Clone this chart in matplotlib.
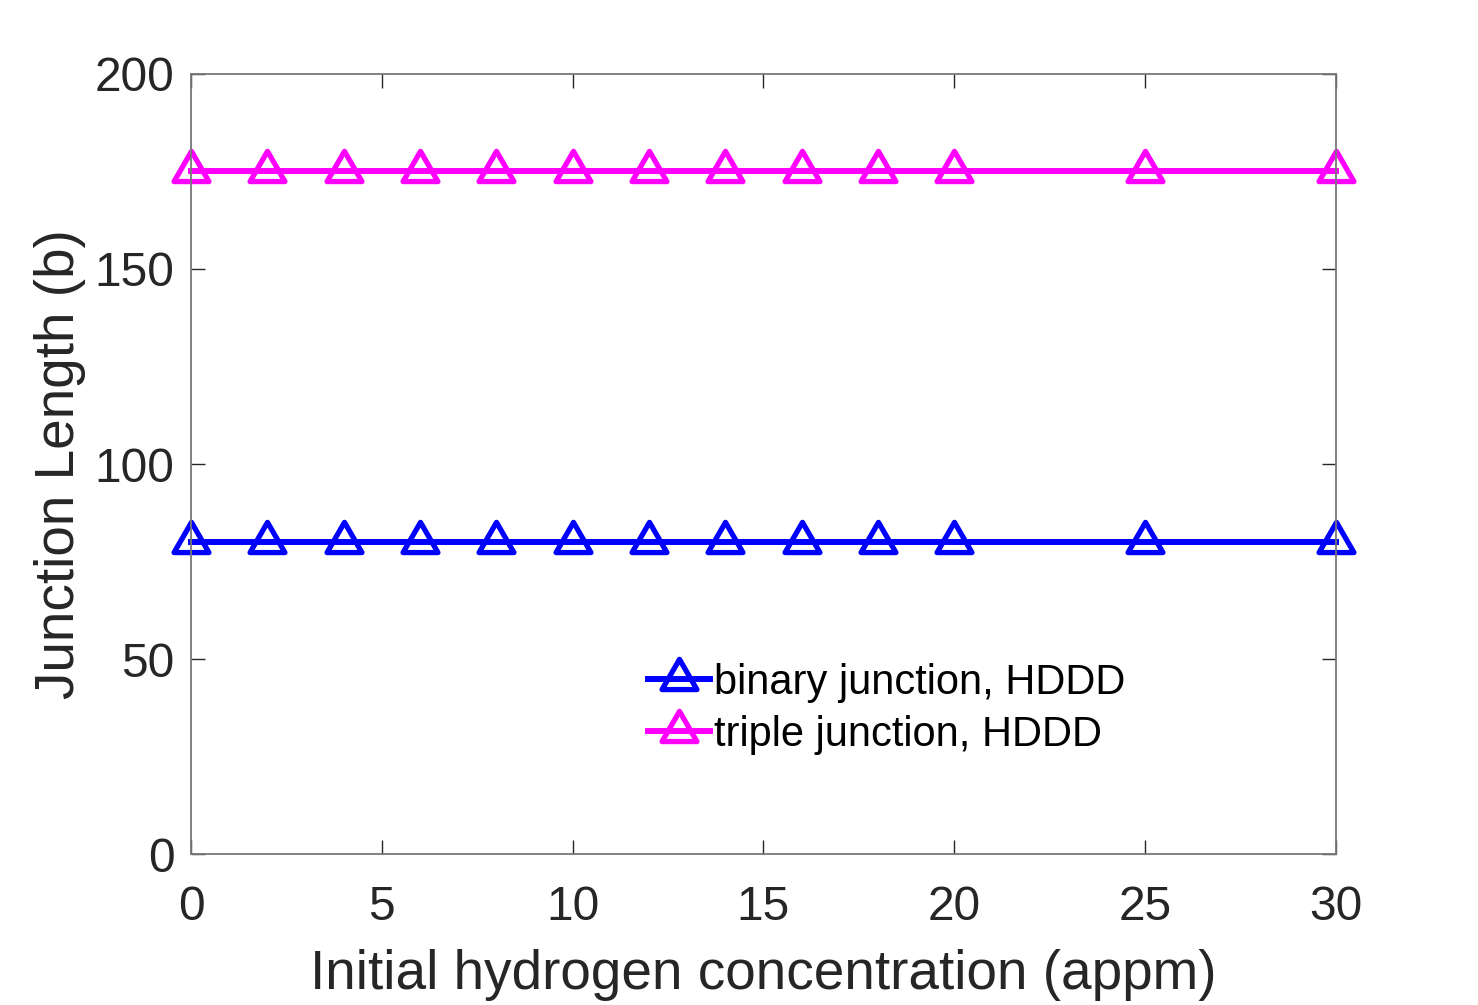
import matplotlib
matplotlib.use('Agg')
import matplotlib.pyplot as plt
from matplotlib.markers import MarkerStyle
from matplotlib.path import Path

# data
conc = [0, 2, 4, 6, 8, 10, 12, 14, 16, 18, 20, 25, 30]
binary_len = [80, 80, 80, 80, 80, 80, 80, 80, 80, 80, 80, 80, 80]
triple_len = [175, 175, 175, 175, 175, 175, 175, 175, 175, 175, 175, 175, 175]
xticks = [0, 5, 10, 15, 20, 25, 30]
yticks = [0, 50, 100, 150, 200]

plt.rcParams['font.family'] = ['Liberation Sans', 'DejaVu Sans']
txt = '#262626'

# triangle centred on its centroid (like MATLAB's '^')
tri = Path([(0, 1), (-0.866, -0.5), (0.866, -0.5), (0, 1)], closed=True)
mk = MarkerStyle(tri, joinstyle='miter')

fig = plt.figure(figsize=(14.78, 10.05), dpi=100)
ax = fig.add_axes([0.1292, 0.1502, 0.7747, 0.7762])

ax.plot(conc, binary_len, color='#0000ff', lw=4.3, marker=mk, ms=29,
        mfc='none', mew=3.8, label='binary junction, HDDD', clip_on=False)
ax.plot(conc, triple_len, color='#ff00ff', lw=4.3, marker=mk, ms=29,
        mfc='none', mew=3.8, label='triple junction, HDDD', clip_on=False)

ax.set_xlim(0, 30)
ax.set_ylim(0, 200)
ax.set_xticks(xticks)
ax.set_yticks(yticks)
ax.tick_params(direction='in', length=10, width=1, colors=txt, labelsize=34.5,
               top=True, right=True)
ax.tick_params(axis='x', pad=22)
ax.tick_params(axis='y', pad=12)
for s in ax.spines.values():
    s.set_color('#777777')
    s.set_linewidth(1.3)

ax.set_xlabel('Initial hydrogen concentration (appm)', fontsize=39.5, color=txt, labelpad=14)
ax.set_ylabel('Junction Length (b)', fontsize=39.5, color=txt, labelpad=6)

leg = ax.legend(loc='upper left', bbox_to_anchor=(0.399, 0.2455), frameon=False,
                fontsize=30, handlelength=1.49, handletextpad=0.1,
                labelspacing=0.29, borderaxespad=0, borderpad=0)

fig.savefig('out.png', dpi=100)
